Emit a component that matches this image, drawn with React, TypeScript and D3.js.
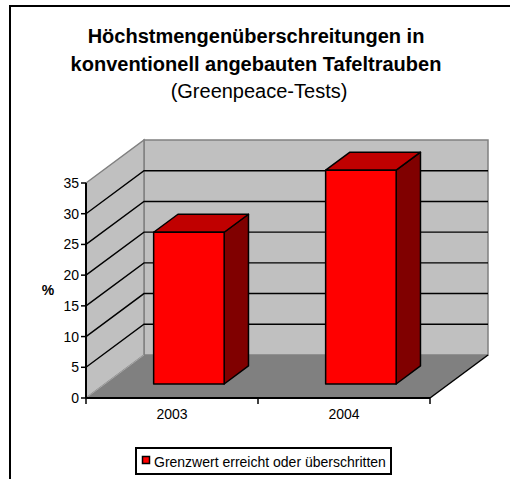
import React from 'react'
import * as d3 from 'd3'

const categories = ['2003', '2004']
const values = [24.7, 34.8]
const yTicks = [0, 5, 10, 15, 20, 25, 30, 35]
const titleLines = ['Höchstmengenüberschreitungen in', 'konventionell angebauten Tafeltrauben']
const subtitle = '(Greenpeace-Tests)'
const seriesName = 'Grenzwert erreicht oder überschritten'

function App() {
  const width = 510
  const height = 479
  const font = 'Arial, "Liberation Sans", sans-serif'

  // front plane scales, depth vector goes back-right-up
  const x = d3.scaleBand().domain(categories).range([86, 430]).padding(0)
  const y = d3.scaleLinear().domain([0, 35]).range([398, 183])
  const depth = { dx: 58, dy: -43 }
  const barFront = 0.326
  const barBack = 0.745
  const barWidth = x.bandwidth() * 0.41

  const pt = (px: number, py: number, d: number) => [px + depth.dx * d, py + depth.dy * d]
  const poly = (pts: number[][]) => pts.map(p => p.join(',')).join(' ')

  const [x0, x1] = x.range()
  const yTop = y(35)
  const yZero = y(0)

  const backWall = poly([pt(x0, yTop, 1), pt(x1, yTop, 1), pt(x1, yZero, 1), pt(x0, yZero, 1)])
  const sideWall = poly([pt(x0, yTop, 0), pt(x0, yTop, 1), pt(x0, yZero, 1), pt(x0, yZero, 0)])
  const floor = poly([pt(x0, yZero, 0), pt(x0, yZero, 1), pt(x1, yZero, 1), pt(x1, yZero, 0)])

  return (
    <svg width={width} height={height} style={{ position: 'absolute', left: 0, top: 0 }} fontFamily={font}>
      <rect x={0} y={0} width={width} height={height} fill="#fff" />
      <rect x={10} y={6} width={width + 20} height={height + 20} fill="none" stroke="#000" strokeWidth={2} />

      <text x={256} y={43} textAnchor="middle" fontSize={20} fontWeight="bold">{titleLines[0]}</text>
      <text x={256} y={71} textAnchor="middle" fontSize={20} fontWeight="bold">{titleLines[1]}</text>
      <text x={259} y={98} textAnchor="middle" fontSize={20}>{subtitle}</text>

      {/* walls and floor */}
      <polygon points={backWall} fill="#c0c0c0" stroke="#808080" strokeWidth={1.5} />
      <polygon points={sideWall} fill="#c0c0c0" stroke="#808080" strokeWidth={1.5} />
      <polygon points={floor} fill="#808080" stroke="none" />
      <line x1={pt(x0, yZero, 0)[0]} y1={yZero} x2={pt(x0, yZero, 1)[0]} y2={pt(x0, yZero, 1)[1]} stroke="#a8a8a8" strokeWidth={1} />

      {/* gridlines */}
      {yTicks.slice(1, -1).map(t => {
        const a = pt(x0, y(t), 0)
        const b = pt(x0, y(t), 1)
        const c = pt(x1, y(t), 1)
        return (
          <polyline key={t} points={poly([a, b, c])} fill="none" stroke="#000" strokeWidth={1.4} />
        )
      })}

      {/* floor front & right edge */}
      <line x1={x0} y1={yZero} x2={x1} y2={yZero} stroke="#000" strokeWidth={2} />
      <line x1={x1} y1={yZero} x2={pt(x1, yZero, 1)[0]} y2={pt(x1, yZero, 1)[1]} stroke="#000" strokeWidth={1.5} />

      {/* y axis */}
      <line x1={x0} y1={yTop} x2={x0} y2={yZero} stroke="#000" strokeWidth={2} />
      {yTicks.map(t => (
        <g key={t}>
          <line x1={x0 - 5} x2={x0} y1={y(t)} y2={y(t)} stroke="#000" strokeWidth={1.5} />
          <text x={x0 - 7} y={y(t) + 5} textAnchor="end" fontSize={14}>{t}</text>
        </g>
      ))}
      <text x={48} y={295} textAnchor="middle" fontSize={14} fontWeight="bold">%</text>

      {/* x axis ticks */}
      {[x0, x0 + x.step(), x1].map((tx, i) => (
        <line key={i} x1={tx} x2={tx} y1={yZero} y2={yZero + 6} stroke="#000" strokeWidth={1.5} />
      ))}
      {categories.map(c => (
        <text key={c} x={(x(c) as number) + x.bandwidth() / 2} y={419} textAnchor="middle" fontSize={14}>{c}</text>
      ))}

      {/* bars */}
      {categories.map((c, i) => {
        const cx = (x(c) as number) + x.bandwidth() / 2 - 2
        const l = cx - barWidth / 2
        const r = cx + barWidth / 2
        const top = y(values[i])
        const fTL = pt(l, top, barFront), fTR = pt(r, top, barFront)
        const fBR = pt(r, yZero, barFront), fBL = pt(l, yZero, barFront)
        const bTL = pt(l, top, barBack), bTR = pt(r, top, barBack)
        const bBR = pt(r, yZero, barBack)
        return (
          <g key={c} stroke="#000" strokeWidth={1.5} strokeLinejoin="round">
            <polygon points={poly([fTR, bTR, bBR, fBR])} fill="#800000" />
            <polygon points={poly([fTL, bTL, bTR, fTR])} fill="#c00000" />
            <polygon points={poly([fTL, fTR, fBR, fBL])} fill="#ff0000" />
          </g>
        )
      })}

      {/* legend */}
      <rect x={136} y={448} width={255} height={26} fill="#fff" stroke="#000" strokeWidth={2} />
      <rect x={142.5} y={456.5} width={7} height={7} fill="#ff0000" stroke="#000" strokeWidth={1.5} />
      <text x={154} y={467} fontSize={14}>{seriesName}</text>
    </svg>
  )
}

export default App
